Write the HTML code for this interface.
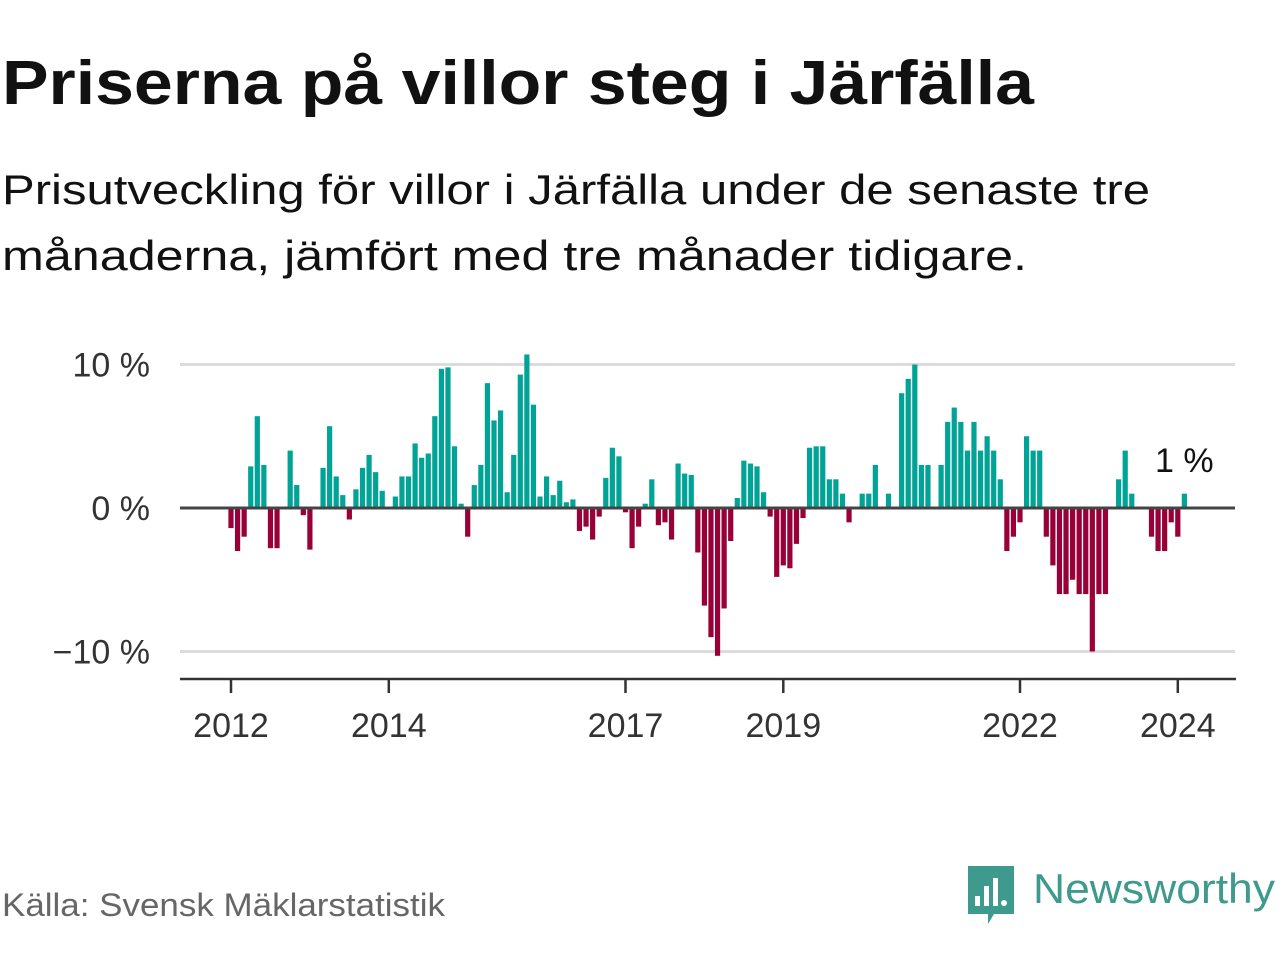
<!DOCTYPE html>
<html><head><meta charset="utf-8"><style>
body{margin:0;background:#fff;}
svg{display:block;font-family:"Liberation Sans",sans-serif;}
</style></head><body>
<svg id="c" width="1280" height="960" viewBox="0 0 1280 960">
<text x="2" y="104" font-size="62" font-weight="bold" fill="#111" textLength="1032" lengthAdjust="spacingAndGlyphs">Priserna på villor steg i Järfälla</text>
<text x="2" y="204" font-size="42" fill="#111" textLength="1148" lengthAdjust="spacingAndGlyphs">Prisutveckling för villor i Järfälla under de senaste tre</text>
<text x="2" y="270" font-size="42" fill="#111" textLength="1025" lengthAdjust="spacingAndGlyphs">månaderna, jämfört med tre månader tidigare.</text>
<g id="grid"></g>
<g id="bars"></g>
<g id="axes"></g>
<text x="1155" y="472" font-size="34" fill="#111">1 %</text>
<text x="2" y="916" font-size="32" fill="#666" textLength="443" lengthAdjust="spacingAndGlyphs">Källa: Svensk Mäklarstatistik</text>
<g>
<path d="M968 866 h46 v48 h-20 l-6 10 v-10 h-20 z" fill="#3d9a8c"/>
<rect x="975" y="896" width="5" height="10" fill="#fff"/>
<rect x="984" y="886" width="5" height="20" fill="#fff"/>
<rect x="993" y="878" width="5" height="28" fill="#fff"/>
<circle cx="1004" cy="903" r="3" fill="#fff"/>
<text x="1033" y="903" font-size="42" fill="#3d9a8c" textLength="242" lengthAdjust="spacingAndGlyphs">Newsworthy</text>
</g>
</svg>
<script>
const values=[-1.4,-3.0,-2.0,2.9,6.4,3.0,-2.8,-2.8,0,4.0,1.6,-0.5,-2.9,0,2.8,5.7,2.2,0.9,-0.8,1.3,2.8,3.7,2.5,1.2,
0,0.8,2.2,2.2,4.5,3.5,3.8,6.4,9.7,9.8,4.3,0.3,-2.0,1.6,3.0,8.7,6.1,6.8,1.1,3.7,9.3,10.7,7.2,0.8,
2.2,0.9,1.9,0.4,0.6,-1.6,-1.3,-2.2,-0.6,2.1,4.2,3.6,-0.3,-2.8,-1.3,0.3,2.0,-1.2,-1.0,-2.2,3.1,2.4,2.3,-3.1,
-6.8,-9.0,-10.3,-7.0,-2.3,0.7,3.3,3.1,2.9,1.1,-0.6,-4.8,-4.0,-4.2,-2.5,-0.7,4.2,4.3,4.3,2.0,2.0,1.0,-1.0,0,
1,1,3,0,1,0,8,9,10,3,3,0,3,6,7,6,4,6,4,5,4,2,-3,-2,
-1,5,4,4,-2,-4,-6,-6,-5,-6,-6,-10,-6,-6,0,2,4,1,0,0,-2,-3,-3,-1,-2,1];
const startYear=2012;
const yTicks=[10,0,-10];
const yTickLabels=["10 %","0 %","\u221210 %"];
const xTickYears=[2012,2014,2017,2019,2022,2024];
const NS='http://www.w3.org/2000/svg';
const x0=231, monthW=6.575;
const xM=i=>x0+i*monthW;
const y=v=>508-v*14.35;
function mk(tag,attrs,parent){const e=document.createElementNS(NS,tag);for(const k in attrs)e.setAttribute(k,attrs[k]);document.getElementById(parent).appendChild(e);return e;}
yTicks.forEach((t,i)=>{
  if(t!==0){const l=mk('line',{x1:180,x2:1235,y1:y(t),y2:y(t),stroke:'#dcdcdc','stroke-width':3},'grid');
  
  }
  const tx=mk('text',{x:150,y:y(t)+12,'font-size':34,fill:'#333','text-anchor':'end'},'axes');
  tx.textContent=yTickLabels[i];
  
  
});
values.forEach((v,i)=>{
  if(v===0)return;
  const top=Math.min(y(v),y(0)), h=Math.abs(y(v)-y(0));
  const r=mk('rect',{x:xM(i)-2.6,y:top,width:5.2,height:h,fill:v>0?'#00a497':'#990038'},'bars');
  
  
});
const z=mk('line',{x1:180,x2:1235,y1:y(0),y2:y(0),stroke:'#444','stroke-width':3},'axes');


const ax=mk('line',{x1:180,x2:1236,y1:679,y2:679,stroke:'#333','stroke-width':2.5},'axes');


xTickYears.forEach(yr=>{
  const xx=xM((yr-startYear)*12);
  const t=mk('line',{x1:xx,x2:xx,y1:679,y2:693,stroke:'#333','stroke-width':2.5},'axes');
  
  
  const tx=mk('text',{x:xx,y:737,'font-size':34,fill:'#333','text-anchor':'middle'},'axes');
  tx.textContent=yr;
  
  
});
</script>
</body></html>
